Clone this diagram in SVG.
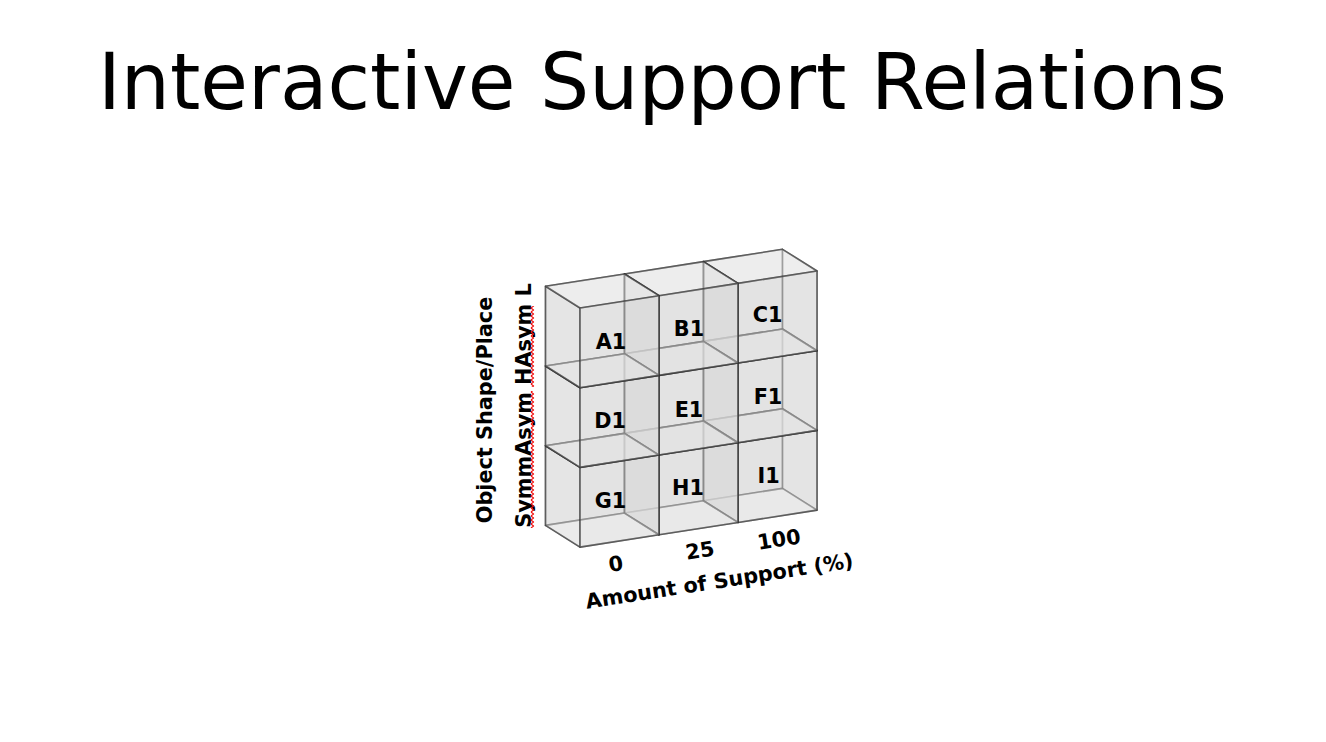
<svg xmlns="http://www.w3.org/2000/svg" xmlns:xlink="http://www.w3.org/1999/xlink" width="1326" height="742" viewBox="0 0 1326 742">
  <style>
    .title { font-family: "DejaVu Sans", "Liberation Sans", sans-serif; font-size: 77.5px; fill: #000; }
    .lbl { font-family: "DejaVu Sans", "Liberation Sans", sans-serif; font-weight: bold; font-size: 20.8px; fill: #000; }
    .face { stroke: #333333; stroke-opacity: 0.58; stroke-width: 1.6; stroke-linejoin: round; fill-opacity: 0.45; }
    .fb { fill: #d7d7d7; }
    .lr { fill: #dcdcdc; }
    .tb { fill: #eeeeee; }
    .squiggle { fill: none; stroke: #f01010; stroke-width: 1.1; stroke-linejoin: round; }
  </style>
  <defs>
    <!-- one voxel: back-facing sides first, then the sides facing the viewer -->
    <g id="cube">
      <path class="face fb" d="M-34.5,-21.7 L44.5,-34.03 L44.5,45.67 L-34.5,58 Z"/>
      <path class="face lr" d="M79,-12.33 L44.5,-34.03 L44.5,45.67 L79,67.37 Z"/>
      <path class="face tb" d="M-34.5,58 L44.5,45.67 L79,67.37 L0,79.7 Z"/>
      <path class="face lr" d="M-34.5,-21.7 L0,0 L0,79.7 L-34.5,58 Z"/>
      <path class="face tb" d="M-34.5,-21.7 L44.5,-34.03 L79,-12.33 L0,0 Z"/>
      <path class="face fb" d="M0,0 L79,-12.33 L79,67.37 L0,79.7 Z"/>
    </g>
    <!-- 4px wave repeated along the rotated axis labels -->
    <pattern id="wave" patternUnits="userSpaceOnUse" x="530" y="0" width="5" height="4">
      <path class="squiggle" d="M1,0 L3.6,2 L1,4"/>
    </pattern>
  </defs>

  <rect width="1326" height="742" fill="#fff"/>

  <text class="title" x="662.5" y="109" text-anchor="middle">Interactive Support Relations</text>

  <!-- cells, painted from the farthest voxel to the nearest -->
  <g id="cell-I1">
    <use xlink:href="#cube" transform="translate(738,442.74)"/>
    <text class="lbl" x="768.5" y="483" text-anchor="middle">I1</text>
  </g>
  <g id="cell-F1">
    <use xlink:href="#cube" transform="translate(738,363.04)"/>
    <text class="lbl" x="768" y="404" text-anchor="middle">F1</text>
  </g>
  <g id="cell-H1">
    <use xlink:href="#cube" transform="translate(659,455.07)"/>
    <text class="lbl" x="688" y="495" text-anchor="middle">H1</text>
  </g>
  <g id="cell-C1">
    <use xlink:href="#cube" transform="translate(738,283.34)"/>
    <text class="lbl" x="767.5" y="322" text-anchor="middle">C1</text>
  </g>
  <g id="cell-E1">
    <use xlink:href="#cube" transform="translate(659,375.37)"/>
    <text class="lbl" x="689" y="417" text-anchor="middle">E1</text>
  </g>
  <g id="cell-G1">
    <use xlink:href="#cube" transform="translate(580,467.4)"/>
    <text class="lbl" x="610.5" y="508" text-anchor="middle">G1</text>
  </g>
  <g id="cell-B1">
    <use xlink:href="#cube" transform="translate(659,295.67)"/>
    <text class="lbl" x="689" y="335.7" text-anchor="middle">B1</text>
  </g>
  <g id="cell-D1">
    <use xlink:href="#cube" transform="translate(580,387.7)"/>
    <text class="lbl" x="610" y="428" text-anchor="middle">D1</text>
  </g>
  <g id="cell-A1">
    <use xlink:href="#cube" transform="translate(580,308)"/>
    <text class="lbl" x="611" y="349" text-anchor="middle">A1</text>
  </g>

  <!-- vertical axis -->
  <g id="axis-y">
    <text class="lbl" transform="translate(492,410) rotate(-90)" text-anchor="middle">Object Shape/Place</text>
    <text class="lbl" transform="translate(530.7,405.5) rotate(-90)" text-anchor="middle">SymmAsym HAsym L</text>
    <rect x="530" y="391" width="5" height="137" fill="url(#wave)"/>
    <rect x="530" y="306" width="5" height="81" fill="url(#wave)"/>
  </g>

  <!-- horizontal axis -->
  <g id="axis-x">
    <text class="lbl" transform="translate(617,571) rotate(-8.8)" text-anchor="middle">0</text>
    <text class="lbl" transform="translate(701,557.5) rotate(-8.8)" text-anchor="middle">25</text>
    <text class="lbl" transform="translate(780,546.5) rotate(-8.8)" text-anchor="middle">100</text>
    <text class="lbl" transform="translate(720.5,588) rotate(-8.8)" text-anchor="middle">Amount of Support (%)</text>
  </g>
</svg>
